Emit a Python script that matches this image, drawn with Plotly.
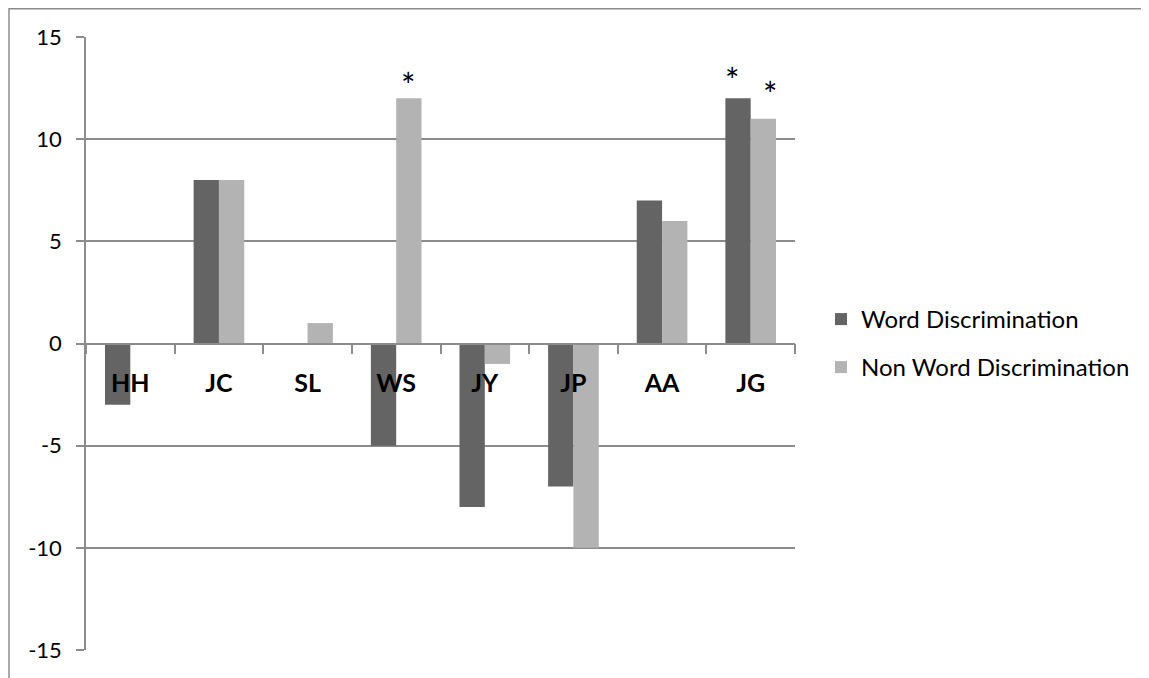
import plotly.graph_objects as go

categories = ["HH", "JC", "SL", "WS", "JY", "JP", "AA", "JG"]
word_disc = [-3, 8, 0, -5, -8, -7, 7, 12]
nonword_disc = [0, 8, 1, 12, -1, -10, 6, 11]
word_sig = [False, False, False, False, False, False, False, True]
nonword_sig = [False, False, False, True, False, False, False, True]
series_names = ["Word Discrimination", "Non Word Discrimination"]
y_ticks = [-15, -10, -5, 0, 5, 10, 15]

# page is drawn with an 8px body margin, so the figure is offset by 8px
OFF = 8
W, H = 1149 - OFF, 678 - OFF
ML, MR, MT, MB = 78, 354, 29, 28
plot_w = W - ML - MR
plot_h = H - MT - MB
bargap = 1.5 / 3.5
bar_px = plot_w / len(categories) * (1 - bargap) / 2

DARK = "#646464"
LIGHT = "#b3b3b3"
AXIS = "#8c8c8c"
FONT = "Lato"

def px_x(p):  # page pixel -> paper x
    return (p - OFF - ML) / plot_w

def px_y(p):  # page pixel -> paper y
    return (H - MB - (p - OFF)) / plot_h

fig = go.Figure()
fig.add_trace(go.Bar(x=categories, y=word_disc, name=series_names[0], legend="legend",
                     marker=dict(color=DARK, line=dict(width=0))))
fig.add_trace(go.Bar(x=categories, y=nonword_disc, name=series_names[1], legend="legend2",
                     marker=dict(color=LIGHT, line=dict(width=0))))

star_font = dict(family=FONT, size=34, color="black")
annotations = []
for cat, v, s in zip(categories, word_disc, word_sig):
    if s:
        annotations.append(dict(x=cat, y=v, xref="x", yref="y", text="*", showarrow=False,
                                xshift=-bar_px / 2 - 6, yshift=-4, yanchor="bottom",
                                font=star_font))
for cat, v, s in zip(categories, nonword_disc, nonword_sig):
    if s:
        jg = cat == "JG"
        annotations.append(dict(x=cat, y=v, xref="x", yref="y", text="*", showarrow=False,
                                xshift=bar_px / 2 + (7 if jg else -1),
                                yshift=(3 if jg else -9), yanchor="bottom",
                                font=star_font))

shapes = [
    dict(type="line", xref="paper", yref="paper", x0=px_x(9), x1=px_x(1160),
         y0=px_y(8.75), y1=px_y(8.75), line=dict(color=AXIS, width=1.5)),
    dict(type="line", xref="paper", yref="paper", x0=px_x(9), x1=px_x(9),
         y0=px_y(8), y1=px_y(690), line=dict(color=AXIS, width=1.5)),
]

legend_font = dict(family=FONT, size=24, color="black")
fig.update_layout(
    width=W, height=H,
    margin=dict(l=ML, r=MR, t=MT, b=MB, pad=0),
    paper_bgcolor="white", plot_bgcolor="white",
    barmode="group", bargap=bargap, bargroupgap=0,
    font=dict(family=FONT, color="black"),
    showlegend=True,
    legend=dict(x=px_x(821), xanchor="left", y=px_y(319.5), yanchor="middle",
                font=legend_font, bgcolor="rgba(0,0,0,0)", itemclick=False),
    legend2=dict(x=px_x(821), xanchor="left", y=px_y(367.5), yanchor="middle",
                 font=legend_font, bgcolor="rgba(0,0,0,0)", itemclick=False),
    annotations=annotations,
    shapes=shapes,
    xaxis=dict(type="category", categoryorder="array", categoryarray=categories,
               anchor="free", position=0.5, showline=True, linecolor=AXIS, linewidth=1.5,
               ticks="outside", ticklen=10, tickcolor=AXIS, tickwidth=1.5,
               tickson="boundaries", showgrid=False, zeroline=False,
               ticklabelstandoff=18,
               tickfont=dict(family=FONT, size=25, color="black", weight="bold")),
    yaxis=dict(range=[-15, 15], tickvals=y_ticks, ticktext=[str(t) for t in y_ticks],
               showgrid=True, gridcolor=AXIS, gridwidth=1.5,
               showline=True, linecolor=AXIS, linewidth=1.5,
               ticks="outside", ticklen=8, tickcolor=AXIS, tickwidth=1.5,
               zeroline=False, ticklabelstandoff=10,
               tickfont=dict(family=FONT, size=22, color="black")),
)

fig.write_html("out.html")
